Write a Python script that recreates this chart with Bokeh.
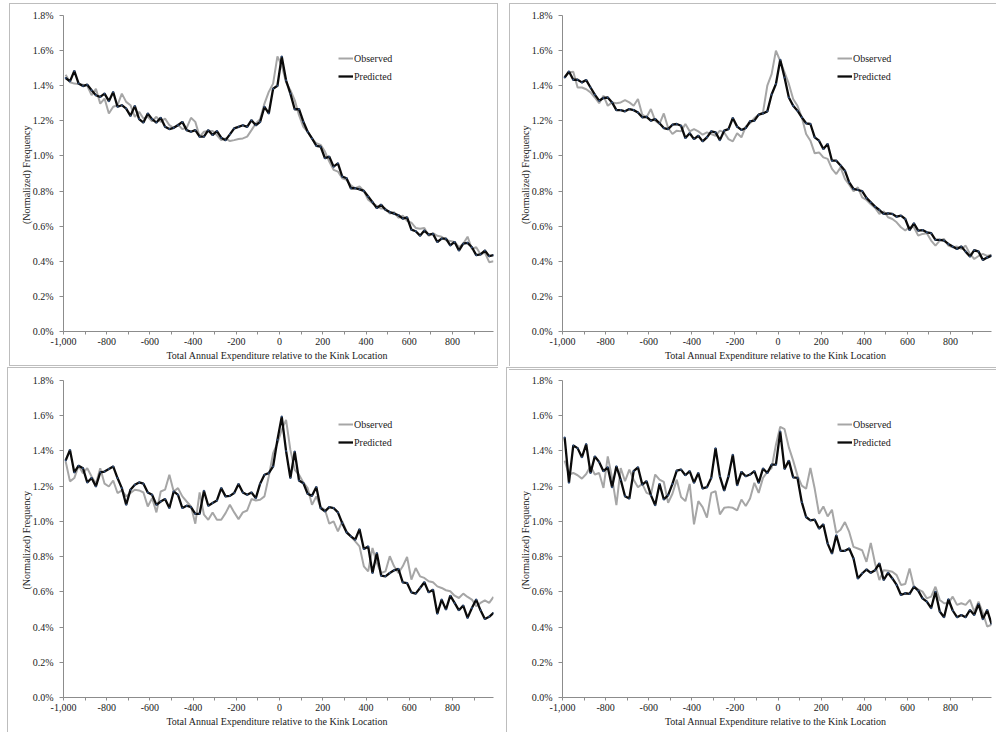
from bokeh.plotting import figure
from bokeh.models import (Range1d, FixedTicker, PrintfTickFormatter, NumeralTickFormatter,
                          Legend, LegendItem)
from bokeh.layouts import gridplot
from bokeh.embed import file_html
from bokeh.resources import INLINE

# Bin centres of total annual expenditure relative to the kink (20-unit bins)
expenditure = list(range(-990, 1000, 20))

y_ticks = [0.0, 0.2, 0.4, 0.6, 0.8, 1.0, 1.2, 1.4, 1.6, 1.8]
x_ticks = [-1000, -800, -600, -400, -200, 0, 200, 400, 600, 800]
x_minor_ticks = [-900, -700, -500, -300, -100, 100, 300, 500, 700, 900]
series_names = ["Observed", "Predicted"]
x_title = "Total Annual Expenditure relative  to the Kink Location"
y_title = "(Normalized)  Frequency"

# Normalized frequencies in percent, one list per panel and series
observed_1 = [
    1.463, 1.42, 1.412, 1.41, 1.405, 1.40, 1.346, 1.383, 1.298, 1.327,
    1.242, 1.28, 1.289, 1.355, 1.308, 1.289, 1.223, 1.251, 1.213, 1.223,
    1.198, 1.223, 1.194, 1.213, 1.175, 1.16, 1.179, 1.153, 1.16, 1.217,
    1.194, 1.11, 1.138, 1.142, 1.142, 1.119, 1.09, 1.10, 1.085, 1.09,
    1.096, 1.10, 1.11, 1.147, 1.185, 1.21, 1.298, 1.365, 1.412, 1.567,
    1.515, 1.42, 1.375, 1.318, 1.232, 1.166, 1.138, 1.10, 1.072, 1.063,
    1.025, 0.968, 0.921, 0.911, 0.873, 0.864, 0.832, 0.816, 0.826, 0.80,
    0.75, 0.73, 0.715, 0.70, 0.70, 0.672, 0.68, 0.648, 0.66, 0.63,
    0.62, 0.59, 0.585, 0.59, 0.545, 0.56, 0.545, 0.54, 0.52, 0.515,
    0.51, 0.48, 0.50, 0.54, 0.47, 0.48, 0.44, 0.45, 0.395, 0.40,
]
predicted_1 = [
    1.444, 1.425, 1.484, 1.412, 1.398, 1.406, 1.374, 1.346, 1.336, 1.355,
    1.312, 1.364, 1.28, 1.289, 1.27, 1.228, 1.285, 1.21, 1.19, 1.242,
    1.21, 1.19, 1.217, 1.166, 1.153, 1.16, 1.175, 1.194, 1.147, 1.138,
    1.147, 1.11, 1.11, 1.147, 1.119, 1.142, 1.104, 1.09, 1.123, 1.157,
    1.166, 1.175, 1.166, 1.204, 1.175, 1.194, 1.28, 1.242, 1.383, 1.40,
    1.567, 1.431, 1.355, 1.266, 1.266, 1.195, 1.138, 1.10, 1.058, 1.053,
    0.987, 0.996, 0.939, 0.958, 0.883, 0.873, 0.816, 0.816, 0.81, 0.801,
    0.769, 0.737, 0.703, 0.722, 0.694, 0.68, 0.671, 0.662, 0.643, 0.65,
    0.58, 0.571, 0.546, 0.575, 0.552, 0.556, 0.51, 0.529, 0.529, 0.49,
    0.51, 0.461, 0.50, 0.505, 0.48, 0.435, 0.439, 0.461, 0.429, 0.435,
]
observed_2 = [
    1.45, 1.476, 1.48, 1.39, 1.39, 1.38, 1.362, 1.333, 1.30, 1.343,
    1.286, 1.305, 1.30, 1.305, 1.318, 1.305, 1.286, 1.324, 1.235, 1.22,
    1.267, 1.201, 1.182, 1.242, 1.159, 1.125, 1.144, 1.14, 1.182, 1.14,
    1.153, 1.14, 1.121, 1.134, 1.125, 1.115, 1.144, 1.134, 1.096, 1.083,
    1.129, 1.106, 1.167, 1.186, 1.216, 1.235, 1.248, 1.40, 1.466, 1.60,
    1.54, 1.476, 1.41, 1.324, 1.286, 1.22, 1.125, 1.087, 1.015, 1.02,
    0.992, 0.983, 0.926, 0.897, 0.935, 0.869, 0.836, 0.799, 0.821, 0.764,
    0.749, 0.725, 0.704, 0.67, 0.685, 0.651, 0.641, 0.622, 0.594, 0.575,
    0.597, 0.594, 0.546, 0.556, 0.56, 0.518, 0.489, 0.518, 0.527, 0.489,
    0.48, 0.484, 0.47, 0.489, 0.442, 0.413, 0.43, 0.442, 0.43, 0.438,
]
predicted_2 = [
    1.447, 1.481, 1.434, 1.434, 1.419, 1.432, 1.39, 1.349, 1.315, 1.33,
    1.333, 1.305, 1.261, 1.261, 1.254, 1.267, 1.261, 1.248, 1.22, 1.223,
    1.201, 1.21, 1.186, 1.159, 1.153, 1.178, 1.182, 1.172, 1.102, 1.129,
    1.096, 1.115, 1.083, 1.106, 1.14, 1.134, 1.09, 1.144, 1.153, 1.216,
    1.167, 1.148, 1.159, 1.197, 1.201, 1.235, 1.242, 1.254, 1.35, 1.41,
    1.548, 1.447, 1.333, 1.286, 1.258, 1.22, 1.186, 1.182, 1.106, 1.087,
    1.039, 1.068, 0.973, 0.973, 0.945, 0.916, 0.85, 0.812, 0.806, 0.80,
    0.761, 0.736, 0.711, 0.692, 0.67, 0.673, 0.67, 0.654, 0.66, 0.641,
    0.578, 0.616, 0.575, 0.578, 0.565, 0.56, 0.522, 0.522, 0.518, 0.499,
    0.484, 0.47, 0.484, 0.455, 0.427, 0.463, 0.455, 0.408, 0.421, 0.432,
]
observed_3 = [
    1.34, 1.227, 1.246, 1.316, 1.274, 1.302, 1.255, 1.214, 1.302, 1.214,
    1.198, 1.232, 1.161, 1.176, 1.142, 1.161, 1.18, 1.176, 1.164, 1.085,
    1.132, 1.051, 1.17, 1.18, 1.265, 1.17, 1.189, 1.142, 1.113, 1.085,
    0.987, 1.164, 1.038, 1.009, 1.051, 1.009, 1.009, 1.047, 1.094, 1.051,
    1.013, 1.051, 1.062, 1.127, 1.119, 1.123, 1.142, 1.255, 1.387, 1.444,
    1.52, 1.576, 1.406, 1.293, 1.265, 1.221, 1.189, 1.094, 1.142, 1.081,
    1.066, 0.987, 1.0, 0.943, 1.0, 0.943, 0.915, 0.887, 0.858, 0.745,
    0.716, 0.849, 0.764, 0.707, 0.716, 0.802, 0.745, 0.707, 0.745, 0.798,
    0.669, 0.735, 0.688, 0.679, 0.66, 0.654, 0.631, 0.622, 0.609, 0.603,
    0.578, 0.565, 0.59, 0.571, 0.556, 0.518, 0.537, 0.552, 0.537, 0.571,
]
predicted_3 = [
    1.346, 1.406, 1.278, 1.316, 1.302, 1.221, 1.246, 1.198, 1.278, 1.283,
    1.297, 1.312, 1.246, 1.189, 1.094, 1.18, 1.208, 1.221, 1.214, 1.164,
    1.151, 1.094, 1.113, 1.127, 1.076, 1.17, 1.151, 1.076, 1.089, 1.081,
    1.043, 1.043, 1.174, 1.089, 1.104, 1.119, 1.189, 1.142, 1.145, 1.161,
    1.212, 1.164, 1.151, 1.164, 1.132, 1.214, 1.265, 1.274, 1.312, 1.463,
    1.595, 1.40, 1.246, 1.397, 1.232, 1.217, 1.157, 1.145, 1.195, 1.076,
    1.057, 1.081, 1.076, 1.051, 0.99, 0.938, 0.915, 0.896, 0.956, 0.843,
    0.858, 0.707, 0.82, 0.692, 0.688, 0.707, 0.722, 0.73, 0.654, 0.65,
    0.597, 0.59, 0.622, 0.654, 0.597, 0.612, 0.476, 0.556, 0.499, 0.578,
    0.537, 0.495, 0.522, 0.452, 0.508, 0.556, 0.495, 0.446, 0.458, 0.48,
]
observed_4 = [
    1.345, 1.266, 1.275, 1.262, 1.243, 1.269, 1.313, 1.266, 1.275, 1.19,
    1.369, 1.247, 1.092, 1.303, 1.228, 1.294, 1.237, 1.194, 1.213, 1.162,
    1.153, 1.266, 1.237, 1.224, 1.106, 1.157, 1.237, 1.138, 1.115, 1.213,
    0.983, 1.115, 1.081, 1.021, 1.162, 1.171, 1.04, 1.077, 1.081, 1.077,
    1.062, 1.124, 1.087, 1.13, 1.219, 1.162, 1.247, 1.281, 1.303, 1.435,
    1.537, 1.524, 1.42, 1.345, 1.26, 1.203, 1.185, 1.303, 1.185, 1.043,
    1.085, 1.028, 1.066, 0.934, 0.953, 0.996, 0.94, 0.855, 0.846, 0.836,
    0.77, 0.878, 0.761, 0.667, 0.723, 0.72, 0.714, 0.695, 0.639, 0.644,
    0.733, 0.629, 0.614, 0.601, 0.563, 0.573, 0.629, 0.554, 0.535, 0.535,
    0.573, 0.526, 0.535, 0.526, 0.554, 0.488, 0.544, 0.479, 0.403, 0.413,
]
predicted_4 = [
    1.477, 1.219, 1.431, 1.416, 1.364, 1.439, 1.275, 1.369, 1.337, 1.285,
    1.307, 1.194, 1.313, 1.237, 1.143, 1.13, 1.285, 1.307, 1.209, 1.228,
    1.149, 1.092, 1.213, 1.124, 1.149, 1.213, 1.288, 1.294, 1.262, 1.285,
    1.219, 1.275, 1.187, 1.194, 1.247, 1.416, 1.256, 1.175, 1.256, 1.379,
    1.205, 1.281, 1.256, 1.266, 1.285, 1.219, 1.30, 1.275, 1.322, 1.322,
    1.51, 1.298, 1.345, 1.25, 1.247, 1.109, 1.025, 1.006, 1.01, 0.959,
    0.983, 0.874, 0.817, 0.921, 0.833, 0.833, 0.846, 0.789, 0.676, 0.704,
    0.727, 0.708, 0.723, 0.761, 0.667, 0.708, 0.676, 0.639, 0.582, 0.592,
    0.588, 0.629, 0.607, 0.563, 0.544, 0.507, 0.601, 0.488, 0.456, 0.558,
    0.494, 0.456, 0.469, 0.456, 0.497, 0.469, 0.531, 0.445, 0.497, 0.418,
]

FONT = "Liberation Serif"
TEXT_COLOR = "#1a1a1a"
AXIS_COLOR = "#8c8c8c"
BORDER_COLOR = "#bdbdbd"
OBS_COLOR = "#a6a6a6"
PRED_COLOR = "#0b0b0b"
W, H = 498, 366


def border_styles(rects):
    """Thin chart-area border lines painted behind a transparent canvas.
    Each rect is (x, y, width, height) in pixels of the panel."""
    fill = f"linear-gradient({BORDER_COLOR}, {BORDER_COLOR})"
    return {
        "background-color": "white",
        "background-image": ", ".join([fill] * len(rects)),
        "background-size": ", ".join(f"{w}px {h}px" for _, _, w, h in rects),
        "background-position": ", ".join(f"{x}px {y}px" for x, y, _, _ in rects),
        "background-repeat": "no-repeat",
    }


def make_panel(observed, predicted, frame_left, frame_top, frame_right, border_rects):
    p = figure(width=W, height=H, output_backend="svg", toolbar_location=None,
               x_range=Range1d(-1000, 990), y_range=Range1d(0, 1.8),
               min_border_left=frame_left, min_border_top=frame_top,
               min_border_right=frame_right, min_border_bottom=35,
               background_fill_color=None, border_fill_color=None,
               styles=border_styles(border_rects))
    p.outline_line_color = None
    p.xgrid.visible = False
    p.ygrid.visible = False

    r_obs = p.line(expenditure, observed, line_color=OBS_COLOR, line_width=2)
    r_pred = p.line(expenditure, predicted, line_color=PRED_COLOR, line_width=2.3)
    p.scatter(expenditure, predicted, size=2, marker="circle",
              fill_color="#2f4b75", line_color=None)

    xa = p.xaxis[0]
    xa.ticker = FixedTicker(ticks=x_ticks, minor_ticks=x_minor_ticks)
    xa.formatter = NumeralTickFormatter(format="0,0")
    xa.axis_label = x_title
    ya = p.yaxis[0]
    ya.ticker = FixedTicker(ticks=y_ticks)
    ya.formatter = PrintfTickFormatter(format="%.1f%%")
    ya.axis_label = y_title

    for ax in (xa, ya):
        ax.axis_line_color = AXIS_COLOR
        ax.major_tick_line_color = AXIS_COLOR
        ax.minor_tick_line_color = AXIS_COLOR
        ax.major_tick_in = 0
        ax.minor_tick_in = 0
        ax.major_label_text_font = FONT
        ax.major_label_text_font_size = "10px"
        ax.major_label_text_color = TEXT_COLOR
        ax.axis_label_text_font = FONT
        ax.axis_label_text_font_size = "10px"
        ax.axis_label_text_font_style = "normal"
        ax.axis_label_text_color = TEXT_COLOR
    xa.major_tick_out = 3
    xa.minor_tick_out = 3
    xa.major_label_standoff = 3
    xa.axis_label_standoff = 2
    ya.major_tick_out = 4
    ya.minor_tick_out = 0
    ya.minor_tick_line_color = None
    ya.major_label_standoff = 6
    ya.axis_label_standoff = -2

    legend = Legend(items=[LegendItem(label=series_names[0], renderers=[r_obs]),
                           LegendItem(label=series_names[1], renderers=[r_pred])],
                    location=(275, 248), orientation="vertical",
                    padding=0, margin=0, spacing=4,
                    glyph_width=15, glyph_height=14, label_height=14, label_standoff=1,
                    border_line_color=None, background_fill_alpha=0,
                    label_text_font=FONT, label_text_font_size="10px",
                    label_text_color=TEXT_COLOR)
    p.add_layout(legend)
    return p


p1 = make_panel(observed_1, predicted_1, 63, 13, 5,
                [(9, 3, 1, 363), (9, 3, 489, 1), (9, 365, 489, 1), (497, 3, 1, 363)])
p2 = make_panel(observed_2, predicted_2, 64, 15, 5,
                [(11, 3, 1, 363), (11, 3, 487, 1)])
p3 = make_panel(observed_3, predicted_3, 62, 14, 5,
                [(7, 1, 1, 365), (7, 1, 491, 1)])
p4 = make_panel(observed_4, predicted_4, 62, 13, 3,
                [(8, 1, 1, 365), (8, 1, 490, 1), (11, 3, 487, 1)])

grid = gridplot([[p1, p2], [p3, p4]], toolbar_location=None)

with open("out.html", "w") as f:
    f.write(file_html(grid, INLINE))
